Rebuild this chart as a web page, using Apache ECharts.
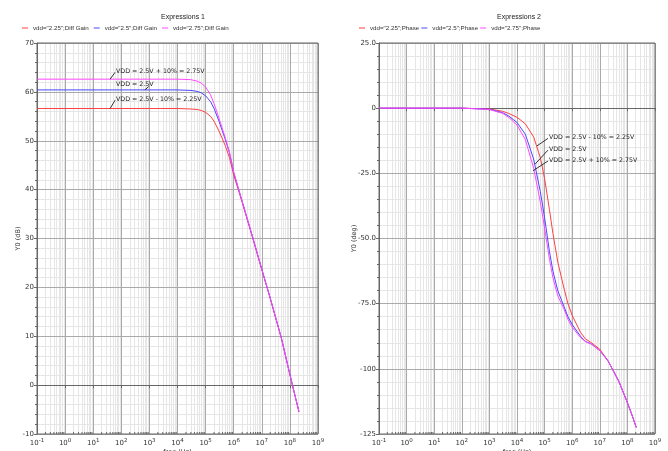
<!DOCTYPE html>
<html>
<head>
<meta charset="utf-8">
<script src="https://cdn.jsdelivr.net/npm/echarts@6/dist/echarts.min.js"></script>
<style>
html, body { margin: 0; padding: 0; background: #fff; }
#main { width: 668px; height: 451px; }
</style>
</head>
<body>
<div id="main"></div>
<script>
var gainFreq = [0.1, 1e3, 1e4, 3e4, 5e4, 7e4, 1e5, 1.5e5, 2e5, 3e5, 5e5, 7e5, 1e6, 2e6, 5e6, 1e7, 2e7, 5e7, 1e8, 1.5e8, 2.1e8];
var gain225 = [56.6, 56.6, 56.6, 56.5, 56.4, 56.2, 55.8, 55.0, 54.0, 52.0, 49.0, 46.6, 43.0, 37.4, 29.6, 23.6, 17.7, 9.5, 2.1, -2.1, -5.5];
var gain250 = [60.4, 60.4, 60.4, 60.3, 60.1, 59.8, 59.2, 58.0, 56.6, 54.0, 50.3, 47.6, 43.5, 37.6, 29.8, 23.7, 17.8, 9.6, 2.2, -2.0, -5.4];
var gain275 = [62.6, 62.6, 62.6, 62.5, 62.2, 61.8, 61.0, 59.4, 57.6, 54.6, 50.6, 47.8, 43.6, 37.6, 29.8, 23.7, 17.8, 9.6, 2.2, -2.0, -5.4];

var phaseFreq = [0.1, 100, 1e3, 3e3, 5e3, 1e4, 2e4, 4e4, 7e4, 1e5, 1.5e5, 2e5, 3e5, 5e5, 7e5, 1e6, 2e6, 3e6, 5e6, 1e7, 2e7, 3e7, 5e7, 1e8, 1.5e8, 2.1e8];
var phase225 = [0, 0, -0.3, -1.2, -2, -3.5, -6, -11, -19, -27, -39, -48, -59, -69, -75, -79.5, -86, -88.5, -90, -92.5, -97, -100.5, -105, -113, -118, -122.5];
var phase250 = [0, 0, -0.4, -1.7, -3, -5.5, -10, -19.5, -32, -42, -55, -62.5, -70, -76, -80, -83, -87.5, -89.5, -90.5, -93, -97, -100.5, -105, -113, -118, -122.5];
var phase275 = [0, 0, -0.5, -2, -3.5, -6.5, -12, -23, -36, -46, -58, -65, -72, -77, -81, -84, -88, -89.5, -90.5, -93, -97, -100.5, -105, -113, -118, -122.5];

var gainNames = ['vdd="2.25";Diff Gain', 'vdd="2.5";Diff Gain', 'vdd="2.75";Diff Gain'];
var phaseNames = ['vdd="2.25";Phase', 'vdd="2.5";Phase', 'vdd="2.75";Phase'];
var gainTicks = ['-10', '0', '10', '20', '30', '40', '50', '60', '70'];
var phaseTicks = ['-125', '-100', '-75.0', '-50.0', '-25.0', '0', '25.0'];

// annotation text anchor and leader line ends, in data units [freq, value]
var gainNotes = [
    { text: 'VDD = 2.5V + 10% = 2.75V', at: [60, 64.2], lead: [[40, 62.6], [60, 64.0]] },
    { text: 'VDD = 2.5V', at: [60, 61.6], lead: [[690, 60.4], [950, 61.1]] },
    { text: 'VDD = 2.5V - 10% = 2.25V', at: [60, 58.4], lead: [[40, 56.6], [60, 58.3]] }
];
var phaseNotes = [
    { text: 'VDD = 2.5V - 10% = 2.25V', at: [1.32e5, -11.2], lead: [[5.25e4, -14.5], [1.32e5, -11.6]] },
    { text: 'VDD = 2.5V', at: [1.32e5, -15.8], lead: [[4.5e4, -21.5], [1.32e5, -16.1]] },
    { text: 'VDD = 2.5V + 10% = 2.75V', at: [1.32e5, -20], lead: [[3.8e4, -24], [1.32e5, -20.3]] }
];

var colors = ['#ff4040', '#4848ff', '#ff48ff'];

function pairs(xs, ys) {
    return xs.map(function (x, i) {
        return [x, ys[i]];
    });
}

// 2..9 of every decade, for the light vertical lines and small ticks
var minorFreq = [];
for (var n = -1; n < 9; n++) {
    for (var k = 2; k < 10; k++) {
        minorFreq.push(k * Math.pow(10, n));
    }
}

var font = 'DejaVu Sans';

function freqAxis(idx) {
    return {
        type: 'log',
        logBase: 10,
        gridIndex: idx,
        z: 2,
        min: 0.1,
        max: 1e9,
        splitNumber: 10,
        name: 'freq (Hz)',
        nameLocation: 'middle',
        nameGap: 15,
        nameMoveOverlap: false,
        nameTextStyle: { fontSize: 6.5, color: '#333', fontFamily: font },
        axisLine: { show: true, lineStyle: { color: '#666' } },
        axisTick: { show: true, length: 3, lineStyle: { color: '#666' } },
        axisLabel: {
            fontSize: 7,
            color: '#333',
            fontFamily: font,
            margin: 4,
            formatter: function (v) {
                return '10{sup|' + Math.round(Math.log10(v)) + '}';
            },
            rich: { sup: { fontSize: 5.5, fontFamily: font, color: '#333', padding: [0, 0, 5, 0] } }
        },
        splitLine: { show: true, lineStyle: { color: '#aaa', width: 1 } }
    };
}

function valueAxis(idx, min, max, interval, minorSplit, name, gap, ticks) {
    return {
        type: 'value',
        gridIndex: idx,
        z: 2,
        min: min,
        max: max,
        interval: interval,
        name: name,
        nameLocation: 'middle',
        nameRotate: 90,
        nameGap: gap,
        nameMoveOverlap: false,
        nameTextStyle: { fontSize: 6.5, color: '#333', fontFamily: font },
        axisLine: { show: true, lineStyle: { color: '#666' } },
        axisTick: { show: true, length: 3, lineStyle: { color: '#666' } },
        minorTick: { show: true, splitNumber: minorSplit, length: 2, lineStyle: { color: '#666' } },
        axisLabel: {
            fontSize: 7,
            color: '#333',
            fontFamily: font,
            margin: 3,
            formatter: function (v) {
                return ticks[Math.round((v - min) / interval)];
            }
        },
        splitLine: { show: true, lineStyle: { color: '#aaa', width: 1 } },
        minorSplitLine: { show: true, lineStyle: { color: '#e6e6e6', width: 1 } }
    };
}

function curve(name, xs, ys, color, idx) {
    return {
        name: name,
        type: 'line',
        xAxisIndex: idx,
        yAxisIndex: idx,
        data: pairs(xs, ys),
        showSymbol: false,
        smooth: false,
        z: 3,
        color: color,
        lineStyle: { color: color, width: 1 }
    };
}

function gridLines(idx) {
    return {
        type: 'line',
        xAxisIndex: idx,
        yAxisIndex: idx,
        data: [],
        silent: true,
        z: 1,
        markLine: {
            silent: true,
            z: 1,
            symbol: 'none',
            animation: false,
            label: { show: false },
            lineStyle: { color: '#e6e6e6', width: 1, type: 'solid' },
            data: minorFreq.map(function (f) {
                return { xAxis: f };
            })
        }
    };
}

// short ticks on the bottom axis at the minor frequencies
function minorTicks(idx, ymin) {
    return {
        type: 'custom',
        xAxisIndex: idx,
        yAxisIndex: idx,
        silent: true,
        z: 4,
        data: minorFreq,
        renderItem: function (params, api) {
            var p = api.coord([api.value(0), ymin]);
            return {
                type: 'line',
                shape: { x1: p[0], y1: p[1], x2: p[0], y2: p[1] - 2 },
                style: { stroke: '#666', lineWidth: 1 }
            };
        }
    };
}

function notes(idx, list) {
    return {
        type: 'line',
        xAxisIndex: idx,
        yAxisIndex: idx,
        data: [],
        silent: true,
        z: 5,
        markLine: {
            silent: true,
            symbol: 'none',
            animation: false,
            label: { show: false },
            lineStyle: { color: '#333', width: 1, type: 'solid' },
            data: list.map(function (d) {
                return [{ coord: d.lead[0] }, { coord: d.lead[1] }];
            })
        },
        markPoint: {
            silent: true,
            symbol: 'circle',
            symbolSize: 0,
            animation: false,
            label: {
                show: true,
                position: 'right',
                distance: 1,
                fontSize: 6.3,
                fontFamily: font,
                color: '#222',
                formatter: '{b}'
            },
            data: list.map(function (d) {
                return { name: d.text, coord: d.at };
            })
        }
    };
}

var chart = echarts.init(document.getElementById('main'));

var option = {
    animation: false,
    backgroundColor: '#fff',
    title: [{
        text: 'Expressions 1',
        left: 178,
        top: 9,
        textAlign: 'center',
        textStyle: { fontSize: 7, fontWeight: 'normal', color: '#222', fontFamily: 'Liberation Sans' }
    }, {
        text: 'Expressions 2',
        left: 514,
        top: 9,
        textAlign: 'center',
        textStyle: { fontSize: 7, fontWeight: 'normal', color: '#222', fontFamily: 'Liberation Sans' }
    }],
    legend: [{
        left: 22,
        top: 25,
        padding: 0,
        icon: 'rect',
        itemWidth: 6,
        itemHeight: 1,
        itemGap: 5,
        data: gainNames,
        textStyle: { fontSize: 6.2, color: '#333', fontFamily: 'Liberation Sans' }
    }, {
        left: 359,
        top: 25,
        padding: 0,
        icon: 'rect',
        itemWidth: 6,
        itemHeight: 1,
        itemGap: 2,
        data: phaseNames,
        textStyle: { fontSize: 6.2, color: '#333', fontFamily: 'Liberation Sans' }
    }],
    grid: [{
        left: 37, right: 350, top: 43, bottom: 17, z: 4,
        show: true, borderColor: '#666', borderWidth: 1,
        containLabel: false, outerBoundsMode: 'none'
    }, {
        left: 379, right: 13, top: 43, bottom: 17, z: 4,
        show: true, borderColor: '#666', borderWidth: 1,
        containLabel: false, outerBoundsMode: 'none'
    }],
    xAxis: [freqAxis(0), freqAxis(1)],
    yAxis: [
        valueAxis(0, -10, 70, 10, 5, 'Y0 (dB)', 15, gainTicks),
        valueAxis(1, -125, 25, 25, 5, 'Y0 (deg)', 21, phaseTicks)
    ],
    series: [
        gridLines(0),
        gridLines(1),
        minorTicks(0, -10),
        minorTicks(1, -125),
        curve(gainNames[0], gainFreq, gain225, colors[0], 0),
        curve(gainNames[1], gainFreq, gain250, colors[1], 0),
        curve(gainNames[2], gainFreq, gain275, colors[2], 0),
        curve(phaseNames[0], phaseFreq, phase225, colors[0], 1),
        curve(phaseNames[1], phaseFreq, phase250, colors[1], 1),
        curve(phaseNames[2], phaseFreq, phase275, colors[2], 1),
        notes(0, gainNotes),
        notes(1, phaseNotes)
    ]
};

chart.setOption(option);
</script>
</body>
</html>
